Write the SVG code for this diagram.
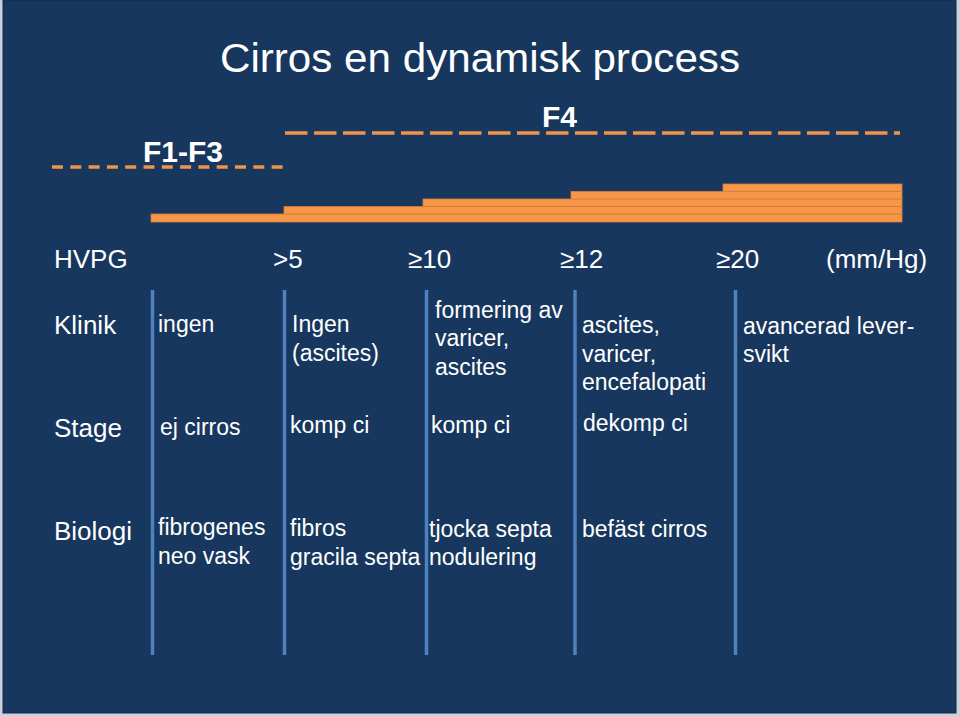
<svg xmlns="http://www.w3.org/2000/svg" width="960" height="716" viewBox="0 0 960 716">
<style>
text{font-family:"Liberation Sans",Arial,sans-serif;fill:#ffffff}
.t{font-size:41px}
.f{font-size:30px;font-weight:bold}
.h{font-size:26px}
.b{font-size:23px}
.bar{fill:#f79646;stroke:#d0813f;stroke-width:0.8}
.vl{stroke:#4f81bd;stroke-width:3.5}
</style>
<rect x="0" y="0" width="960" height="716" fill="#c9d1da"/>
<rect x="3" y="0" width="953" height="713" fill="#17375e" stroke="#10294a" stroke-width="1"/>
<g id="title"><text class="t" x="480" y="72" text-anchor="middle" textLength="520" lengthAdjust="spacingAndGlyphs">Cirros en dynamisk process</text></g>
<g id="f1f3">
<line x1="52" y1="167" x2="285" y2="167" stroke="#f0944c" stroke-width="3.5" stroke-dasharray="11 7.3"/>
<text class="f" x="143" y="162">F1-F3</text>
</g>
<g id="f4">
<line x1="285" y1="133" x2="900" y2="133" stroke="#f0944c" stroke-width="3.5" stroke-dasharray="22.5 6.5"/>
<text class="f" x="542" y="127">F4</text>
</g>
<g id="bars">
<rect class="bar" x="151" y="214" width="751" height="8"/>
<rect class="bar" x="284" y="206.5" width="618" height="7.5"/>
<rect class="bar" x="423" y="199" width="479" height="7.5"/>
<rect class="bar" x="571" y="191.5" width="331" height="7.5"/>
<rect class="bar" x="723" y="184" width="179" height="7.5"/>
</g>
<g id="hvpg">
<text class="h" x="54" y="268">HVPG</text>
<text class="h" x="273" y="268">&gt;5</text>
<text class="h" x="408" y="268">≥10</text>
<text class="h" x="560" y="268">≥12</text>
<text class="h" x="716" y="268">≥20</text>
<text class="h" x="826" y="268">(mm/Hg)</text>
</g>
<g id="connectors">
<line class="vl" x1="152.5" y1="290" x2="152.5" y2="655"/>
<line class="vl" x1="284.5" y1="290" x2="284.5" y2="655"/>
<line class="vl" x1="426.5" y1="290" x2="426.5" y2="655"/>
<line class="vl" x1="575" y1="290" x2="575" y2="655"/>
<line class="vl" x1="735.5" y1="290" x2="735.5" y2="655"/>
</g>
<g id="klinik">
<text class="h" x="54" y="334">Klinik</text>
<text class="b" x="158" y="332">ingen</text>
<text class="b" x="292" y="332">Ingen</text>
<text class="b" x="292" y="361">(ascites)</text>
<text class="b" x="435" y="318">formering av</text>
<text class="b" x="435" y="346">varicer,</text>
<text class="b" x="435" y="375">ascites</text>
<text class="b" x="582" y="333">ascites,</text>
<text class="b" x="582" y="361.5">varicer,</text>
<text class="b" x="582" y="390">encefalopati</text>
<text class="b" x="743" y="334">avancerad lever-</text>
<text class="b" x="743" y="362">svikt</text>
</g>
<g id="stage">
<text class="h" x="54" y="437">Stage</text>
<text class="b" x="160" y="435">ej cirros</text>
<text class="b" x="290" y="433">komp ci</text>
<text class="b" x="431" y="433">komp ci</text>
<text class="b" x="583" y="431">dekomp ci</text>
</g>
<g id="biologi">
<text class="h" x="54" y="540">Biologi</text>
<text class="b" x="158" y="535">fibrogenes</text>
<text class="b" x="158" y="564">neo vask</text>
<text class="b" x="290" y="536">fibros</text>
<text class="b" x="290" y="565">gracila septa</text>
<text class="b" x="429" y="537">tjocka septa</text>
<text class="b" x="429" y="565">nodulering</text>
<text class="b" x="582" y="537">befäst cirros</text>
</g>
</svg>
